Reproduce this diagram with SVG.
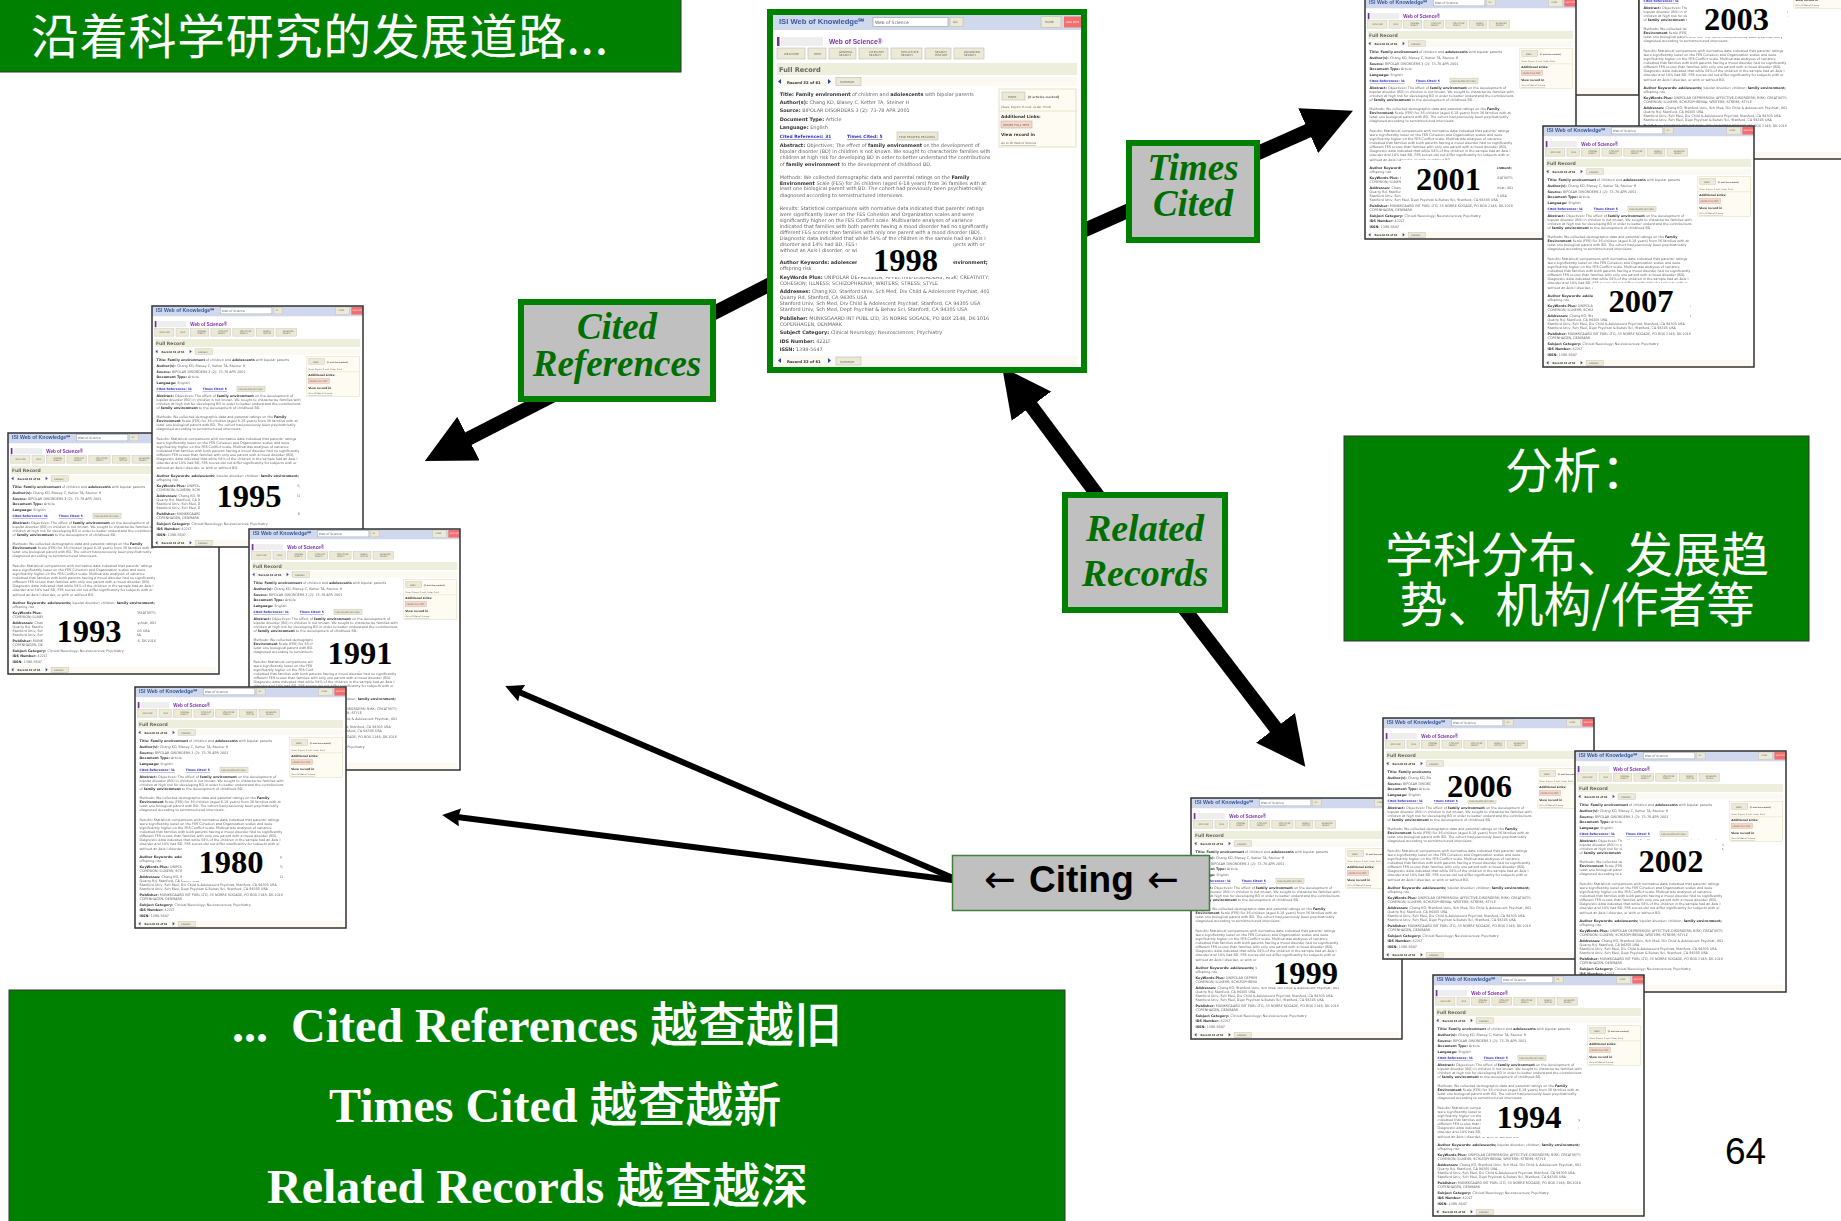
<svg xmlns="http://www.w3.org/2000/svg" xmlns:xlink="http://www.w3.org/1999/xlink" width="1841" height="1221" viewBox="0 0 1841 1221">
<style>
.banner{fill:#008000;stroke:#333;stroke-width:1}
.label{fill:#c0c0c0;stroke:#008000;stroke-width:6}
.lt{font-family:"Liberation Serif",serif;font-weight:bold;font-style:italic;fill:#006f00;text-anchor:middle}
.cjk{font-family:"Noto Sans CJK SC","Liberation Serif",sans-serif;fill:#fff}
.mix{font-family:"Liberation Serif","Noto Sans CJK SC",serif;font-weight:bold;font-size:48px;fill:#fff}
.mix .c{font-family:"Noto Sans CJK SC",sans-serif;font-weight:500}
.year{font-family:"Liberation Serif",serif;font-weight:bold;font-size:32.5px;fill:#000;text-anchor:middle}
.frame{fill:none;stroke:#333;stroke-width:1.5}
.patch{fill:#fff}
.sh{fill:none;stroke:#000;stroke-width:14}
.th{fill:none;stroke:#000;stroke-width:6}
.r{font-family:"DejaVu Sans",sans-serif;font-size:4.9px;fill:#666}
.r .b,.b{font-weight:bold;fill:#333}
.u{fill:#3333bb;text-decoration:underline}
.s{font-family:"DejaVu Sans",sans-serif;font-size:2.9px;fill:#666}
.btn{fill:#ece9d4;stroke:#bbb;stroke-width:.6}
</style>
<defs>
<marker id="heavy" markerUnits="strokeWidth" markerWidth="3.5" markerHeight="3.5" refX="1" refY="1.75" orient="auto"><path d="M0 0L3.5 1.75L0 3.5z" fill="#000"/></marker>
<marker id="light" markerUnits="strokeWidth" markerWidth="3" markerHeight="3" refX=".5" refY="1.5" orient="auto"><path d="M0 0L3 1.5L0 3L.3 1.5z" fill="#000"/></marker>
<filter id="soft" x="0" y="0" width="100%" height="100%"><feGaussianBlur stdDeviation=".4"/></filter>
<symbol id="rec" viewBox="0 0 308 352" width="308" height="352">
<rect width="308" height="352" fill="#fff"/>
<rect width="308" height="15" fill="#cfd8ec"/>
<text x="6" y="9" font-family="Liberation Sans,sans-serif" font-weight="bold" font-size="7.6" fill="#3a5a9c">ISI Web of Knowledge℠</text>
<rect x="100" y="2.5" width="75" height="9" fill="#fff" stroke="#999" stroke-width=".6"/>
<text x="102" y="9" class="s" style="font-size:4.4px">Web of Science</text>
<rect x="177" y="2.5" width="13" height="9" class="btn"/><text x="180" y="8" class="s">GO</text>
<rect x="268" y="1.5" width="20" height="11" class="btn"/><text x="272" y="8" class="s">HOME</text>
<rect x="291" y="1.5" width="17" height="11" fill="#f07070"/><text x="293" y="8" class="s" style="fill:#fff">LOG OUT</text>
<rect x="4" y="22" width="2.5" height="9" fill="#7030a0"/>
<rect x="8" y="22" width="42" height="9" fill="#eeeeee"/>
<text x="56" y="29" font-family="Liberation Sans,sans-serif" font-weight="bold" font-size="6.6" fill="#8030a8">Web of Science®</text>
<g>
<rect x="4" y="33" width="28" height="11" class="btn"/><text x="11" y="40" class="s">WELCOME</text>
<rect x="35" y="33" width="18" height="11" class="btn"/><text x="41" y="40" class="s">HELP</text>
<rect x="56" y="33" width="27" height="11" class="btn"/><text x="66" y="38" class="s">GENERAL<tspan x="66" dy="3.2">SEARCH</tspan></text>
<rect x="86" y="33" width="29" height="11" class="btn"/><text x="96" y="38" class="s">CITED REF<tspan x="96" dy="3.2">SEARCH</tspan></text>
<rect x="118" y="33" width="31" height="11" class="btn"/><text x="128" y="38" class="s">STRUCTURE<tspan x="128" dy="3.2">SEARCH</tspan></text>
<rect x="152" y="33" width="26" height="11" class="btn"/><text x="162" y="38" class="s">SEARCH<tspan x="162" dy="3.2">HISTORY</tspan></text>
<rect x="181" y="33" width="30" height="11" class="btn"/><text x="191" y="38" class="s">ADVANCED<tspan x="191" dy="3.2">SEARCH</tspan></text>
</g>
<rect x="4" y="48" width="300" height="12" fill="#eeeedd"/>
<text x="6" y="57" font-family="DejaVu Sans,sans-serif" font-weight="bold" font-size="6.6" fill="#666">Full Record</text>
<rect x="4" y="62" width="300" height="9" fill="#fcf9f2"/>
<text x="14" y="68.5" class="r b" style="font-size:3.8px">Record 32 of 61</text>
<path d="M8 64v5l-3-2.5zM55 64v5l3-2.5z" fill="#2a4a9a"/>
<rect x="63" y="62.5" width="25" height="8" class="btn"/><text x="67" y="68" class="s">SUMMARY</text>
<g class="r">
<text x="6.7" y="81"><tspan class="b">Title: Family environment</tspan> of children and <tspan class="b">adolescents</tspan> with bipolar parents</text>
<text x="6.7" y="89"><tspan class="b">Author(s):</tspan> Chang KD, Blasey C, Ketter TA, Steiner H</text>
<text x="6.7" y="97.3"><tspan class="b">Source:</tspan> BIPOLAR DISORDERS 3 (2): 73-78 APR 2001</text>
<text x="6.7" y="105.7"><tspan class="b">Document Type:</tspan> Article</text>
<text x="6.7" y="114"><tspan class="b">Language:</tspan> English</text>
<text x="6.7" y="123.3" class="u" style="font-size:4.4px;font-weight:bold">Cited References: 31</text>
<text x="74" y="123.3" class="u" style="font-size:4.4px;font-weight:bold">Times Cited: 5</text>
<rect x="124" y="117" width="41" height="8" class="btn"/><text x="126" y="122.5" class="s">FIND RELATED RECORDS</text>
<text x="6.7" y="132.3"><tspan class="b">Abstract:</tspan> Objectives: The effect of <tspan class="b">family environment</tspan> on the development of</text>
<text x="6.7" y="138.3">bipolar disorder (BD) in children is not known. We sought to characterize families with</text>
<text x="6.7" y="144.3">children at high risk for developing BD in order to better understand the contributions</text>
<text x="6.7" y="150.7">of <tspan class="b">family environment</tspan> to the development of childhood BD.</text>
<text x="6.7" y="163.7">Methods: We collected demographic data and parental ratings on the <tspan class="b">Family</tspan></text>
<text x="6.7" y="169.7"><tspan class="b">Environment</tspan> Scale (FES) for 36 children (aged 6-18 years) from 36 families with at</text>
<text x="6.7" y="175.3">least one biological parent with BD. The cohort had previously been psychiatrically</text>
<text x="6.7" y="181.7">diagnosed according to semistructured interviews.</text>
<text x="6.7" y="195.3">Results: Statistical comparisons with normative data indicated that parents' ratings</text>
<text x="6.7" y="201">were significantly lower on the FES Cohesion and Organization scales and were</text>
<text x="6.7" y="207">significantly higher on the FES Conflict scale. Multivariate analyses of variance</text>
<text x="6.7" y="213.3">indicated that families with both parents having a mood disorder had no significantly</text>
<text x="6.7" y="219.3">different FES scores than families with only one parent with a mood disorder (BD).</text>
<text x="6.7" y="225.3">Diagnostic data indicated that while 54% of the children in the sample had an Axis I</text>
<text x="6.7" y="231.3">disorder and 14% had BD, FES scores did not differ significantly for subjects with or</text>
<text x="6.7" y="237.3">without an Axis I disorder, or with or without BD.</text>
<text x="6.7" y="249.3"><tspan class="b">Author Keywords: adolescents;</tspan> bipolar disorder; children; <tspan class="b">family environment;</tspan></text>
<text x="6.7" y="255.3">offspring risk</text>
<text x="6.7" y="264.3"><tspan class="b">KeyWords Plus:</tspan> UNIPOLAR DEPRESSION; AFFECTIVE-DISORDERS; RISK; CREATIVITY;</text>
<text x="6.7" y="270.3">COHESION; ILLNESS; SCHIZOPHRENIA; WRITERS; STRESS; STYLE</text>
<text x="6.7" y="278.3"><tspan class="b">Addresses:</tspan> Chang KD, Stanford Univ, Sch Med, Div Child &amp; Adolescent Psychiat, 401</text>
<text x="6.7" y="284.3">Quarry Rd, Stanford, CA 94305 USA</text>
<text x="6.7" y="290.3">Stanford Univ, Sch Med, Div Child &amp; Adolescent Psychiat, Stanford, CA 94305 USA</text>
<text x="6.7" y="296.3">Stanford Univ, Sch Med, Dept Psychiat &amp; Behav Sci, Stanford, CA 94305 USA</text>
<text x="6.7" y="305"><tspan class="b">Publisher:</tspan> MUNKSGAARD INT PUBL LTD, 35 NORRE SOGADE, PO BOX 2148, DK-1016</text>
<text x="6.7" y="311">COPENHAGEN, DENMARK</text>
<text x="6.7" y="319.3"><tspan class="b">Subject Category:</tspan> Clinical Neurology; Neurosciences; Psychiatry</text>
<text x="6.7" y="327.7"><tspan class="b">IDS Number:</tspan> 422LT</text>
<text x="6.7" y="336"><tspan class="b">ISSN:</tspan> 1398-5647</text>
</g>
<rect x="226" y="74" width="77" height="58" fill="#fdfbf2" stroke="#ddd8b0" stroke-width=".7"/>
<rect x="229" y="77" width="23" height="8" class="btn"/><text x="235" y="82.5" class="s">MARK</text>
<text x="255" y="83" class="s" style="font-weight:bold">[0 articles marked]</text>
<text x="228" y="93" class="s">(Save, Export, E-mail, Order, Print)</text>
<path d="M226 96h77" stroke="#ddd8b0" stroke-width=".6"/>
<text x="228" y="102.5" class="r b" style="font-size:4.2px">Additional Links:</text>
<rect x="228" y="106" width="31" height="7" fill="#f4d8c8" stroke="#c99" stroke-width=".5"/><text x="230" y="111" class="s">ORDER FULL TEXT</text>
<text x="228" y="120.5" class="r b" style="font-size:4.2px">View record in</text>
<text x="228" y="129" class="s u">Go to ISI Web of Science</text>
<rect x="4" y="341" width="300" height="11" fill="#fcf9f2"/>
<text x="14" y="348" class="r b" style="font-size:3.8px">Record 32 of 61</text>
<path d="M8 343v5l-3-2.5zM55 343v5l3-2.5z" fill="#2a4a9a"/>
<rect x="63" y="342" width="25" height="8" class="btn"/><text x="67" y="347.5" class="s">SUMMARY</text>
</symbol>
</defs>
<rect width="1841" height="1221" fill="#fff"/>

<g id="connectors">
<line class="sh" x1="800" y1="269" x2="456" y2="445" marker-end="url(#heavy)"/>
<line class="sh" x1="1060" y1="241" x2="1321" y2="125" marker-end="url(#heavy)"/>
<line class="sh" x1="1110" y1="512" x2="1023" y2="395" marker-end="url(#heavy)"/>
<line class="sh" x1="1170" y1="590" x2="1284" y2="739" marker-end="url(#heavy)"/>
<line class="th" x1="960" y1="881" x2="519" y2="692" marker-end="url(#light)"/>
<line class="th" x1="960" y1="881" x2="457" y2="817" marker-end="url(#light)"/>
</g>

<g id="banner-top"><rect class="banner" x="-2" y="-2" width="683" height="74"/><text class="cjk" x="31" y="54" font-size="48" textLength="577">沿着科学研究的发展道路...</text></g>

<g id="record-1993" transform="translate(8,433)"><use href="#rec" transform="scale(.685)" filter="url(#soft)"/><rect class="frame" width="211" height="241"/><rect class="patch" x="35" y="177" width="94" height="38"/><text class="year" x="81" y="209">1993</text></g>
<g id="record-1995" transform="translate(152,306)"><use href="#rec" transform="scale(.685)" filter="url(#soft)"/><rect class="frame" width="211" height="241"/><rect class="patch" x="48" y="171" width="97" height="40"/><text class="year" x="97" y="201">1995</text></g>
<g id="record-1991" transform="translate(249,529)"><use href="#rec" transform="scale(.685)" filter="url(#soft)"/><rect class="frame" width="211" height="241"/><rect class="patch" x="64" y="106" width="90" height="36"/><text class="year" x="111" y="135">1991</text></g>
<g id="record-1980" transform="translate(135,687)"><use href="#rec" transform="scale(.685)" filter="url(#soft)"/><rect class="frame" width="211" height="241"/><rect class="patch" x="47" y="158" width="98" height="36"/><text class="year" x="96" y="186">1980</text></g>

<g id="record-1998"><rect x="770" y="12" width="314" height="358" fill="#fff" stroke="#008000" stroke-width="6"/><use href="#rec" x="773" y="15" filter="url(#soft)"/><rect class="patch" x="857" y="240" width="96" height="37"/><text class="year" x="905.5" y="271">1998</text></g>

<g id="record-hidden" transform="translate(1428,-146)"><use href="#rec" transform="scale(.685)" filter="url(#soft)"/><rect class="frame" width="211" height="241"/></g>
<g id="record-2003" transform="translate(1639,-82)"><use href="#rec" transform="scale(.685)" filter="url(#soft)"/><rect class="frame" width="211" height="241"/><rect class="patch" x="48" y="82" width="100" height="37"/><text class="year" x="97.5" y="112">2003</text></g>
<g id="record-2001" transform="translate(1365,-2)"><use href="#rec" transform="scale(.685)" filter="url(#soft)"/><rect class="frame" width="211" height="241"/><rect class="patch" x="36" y="162" width="96" height="38"/><text class="year" x="83.5" y="192">2001</text></g>
<g id="record-2007" transform="translate(1543,126)"><use href="#rec" transform="scale(.685)" filter="url(#soft)"/><rect class="frame" width="211" height="241"/><rect class="patch" x="50" y="157" width="97" height="35"/><text class="year" x="98" y="186">2007</text></g>

<g id="record-1999" transform="translate(1191,798)"><use href="#rec" transform="scale(.685)" filter="url(#soft)"/><rect class="frame" width="211" height="241"/><rect class="patch" x="66" y="159" width="125" height="30"/><text class="year" x="114.5" y="186">1999</text></g>
<g id="record-2006" transform="translate(1383,718)"><use href="#rec" transform="scale(.685)" filter="url(#soft)"/><rect class="frame" width="211" height="241"/><rect class="patch" x="48" y="50" width="107" height="32"/><text class="year" x="96.5" y="79">2006</text></g>
<g id="record-2002" transform="translate(1575,751)"><use href="#rec" transform="scale(.685)" filter="url(#soft)"/><rect class="frame" width="211" height="241"/><rect class="patch" x="47" y="89" width="100" height="35"/><text class="year" x="96" y="121">2002</text></g>
<g id="record-1994" transform="translate(1433,975)"><use href="#rec" transform="scale(.685)" filter="url(#soft)"/><rect class="frame" width="211" height="241"/><rect class="patch" x="48" y="127" width="97" height="35"/><text class="year" x="96" y="153">1994</text></g>

<g id="label-cited"><rect class="label" x="521" y="302" width="192" height="97"/><text class="lt" x="617" y="339" font-size="37">Cited</text><text class="lt" x="617" y="376" font-size="37">References</text></g>
<g id="label-times"><rect class="label" x="1129" y="143" width="128" height="97"/><text class="lt" x="1193" y="180" font-size="37">Times</text><text class="lt" x="1193" y="216" font-size="37">Cited</text></g>
<g id="label-related"><rect class="label" x="1065" y="495" width="160" height="115"/><text class="lt" x="1145" y="541" font-size="38">Related</text><text class="lt" x="1145" y="586" font-size="38">Records</text></g>
<g id="label-citing"><rect x="952.5" y="855.5" width="257" height="55" fill="#c0c0c0" stroke="#3f7f3f" stroke-width="1.5"/><text y="892" font-family="Liberation Sans,sans-serif" font-weight="bold" font-size="37" fill="#000"><tspan x="984" font-family="DejaVu Sans,sans-serif" font-weight="normal" font-size="38">←</tspan><tspan x="1029">Citing</tspan><tspan x="1147" font-family="DejaVu Sans,sans-serif" font-weight="normal" font-size="38">←</tspan></text></g>

<g id="banner-analysis"><rect class="banner" x="1344" y="436" width="465" height="205"/>
<text class="cjk" x="1577" y="488" font-size="48" text-anchor="middle">分析：</text>
<text class="cjk" x="1577" y="572" font-size="48" text-anchor="middle">学科分布、发展趋</text>
<text class="cjk" x="1577" y="622" font-size="48" text-anchor="middle">势、机构/作者等</text></g>

<g id="banner-bottom"><rect class="banner" x="9" y="990" width="1056" height="235"/>
<text class="mix" x="232" y="1042">...<tspan x="291">Cited References </tspan><tspan class="c">越查越旧</tspan></text>
<text class="mix" x="329" y="1122">Times Cited <tspan class="c">越查越新</tspan></text>
<text class="mix" x="267" y="1203">Related Records <tspan class="c">越查越深</tspan></text></g>

<text id="page-number" x="1725" y="1164" font-family="Liberation Sans,sans-serif" font-size="37" fill="#000">64</text>
</svg>
